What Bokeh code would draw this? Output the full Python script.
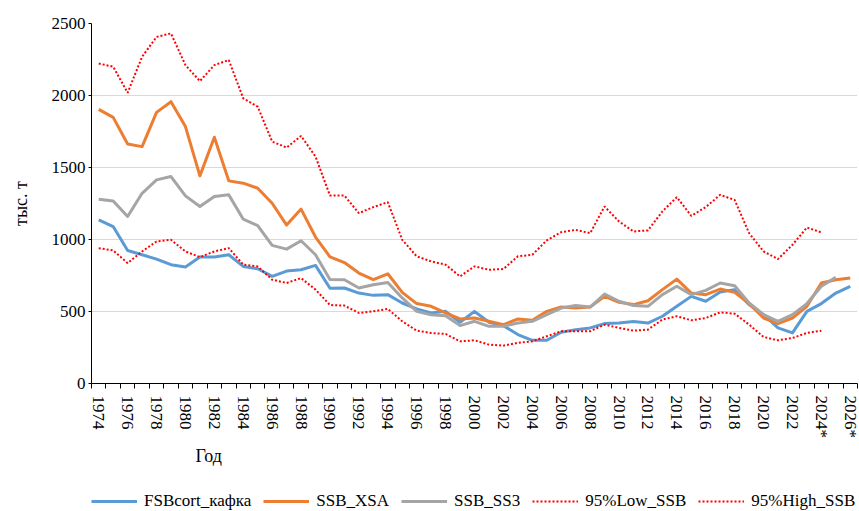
import math
from bokeh.plotting import figure
from bokeh.layouts import column
from bokeh.models import FixedTicker, Legend, LegendItem, Title, Range1d
from bokeh.embed import file_html
from bokeh.resources import INLINE

years = list(range(1974, 2027))
years_ss3 = list(range(1974, 2026))
years_ci = list(range(1974, 2025))

fsb_cort = [1137, 1090, 924, 894, 864, 825, 809, 878, 878, 894, 813, 797, 744, 781, 790, 820,
            661, 663, 628, 612, 617, 559, 518, 490, 501, 425, 501, 425, 402, 340, 300, 300,
            356, 374, 386, 416, 420, 430, 420, 467, 536, 605, 571, 635, 652, 548, 478, 386,
            351, 501, 555, 628, 675]
ssb_xsa = [1904, 1848, 1663, 1645, 1883, 1957, 1784, 1442, 1710, 1407, 1391, 1356, 1252, 1100, 1211, 1017,
           880, 840, 767, 721, 762, 633, 555, 536, 490, 448, 455, 432, 409, 448, 439, 501,
           531, 524, 531, 605, 564, 548, 575, 652, 725, 628, 617, 656, 633, 555, 455, 416,
           455, 536, 698, 721, 732]
ssb_ss3 = [1280, 1268, 1160, 1321, 1414, 1437, 1303, 1229, 1299, 1310, 1141, 1097, 959, 933, 991, 894,
           723, 721, 663, 686, 702, 594, 501, 478, 471, 402, 432, 397, 397, 420, 432, 478,
           524, 541, 531, 621, 571, 541, 536, 617, 675, 617, 647, 698, 679, 559, 478, 432,
           478, 555, 675, 737]
low_ssb = [940, 924, 836, 917, 986, 998, 917, 878, 917, 940, 825, 813, 721, 698, 732, 652,
           545, 541, 490, 501, 518, 432, 367, 351, 344, 293, 300, 270, 263, 282, 293, 328,
           363, 363, 363, 409, 386, 367, 374, 444, 467, 439, 455, 494, 485, 409, 323, 300,
           316, 351, 367]
high_ssb = [2222, 2200, 2019, 2269, 2407, 2431, 2211, 2100, 2211, 2246, 1980, 1922, 1680, 1638, 1719, 1576,
            1305, 1305, 1183, 1225, 1259, 998, 883, 848, 825, 744, 813, 790, 795, 883, 894, 994,
            1051, 1067, 1044, 1229, 1125, 1056, 1063, 1195, 1294, 1164, 1225, 1310, 1275, 1044, 917, 864,
            963, 1083, 1049]

series_names = ["FSBcort_кафка", "SSB_XSA", "SSB_SS3", "95%Low_SSB", "95%High_SSB"]
label_years = list(range(1974, 2027, 2))
label_overrides = {2024: "2024*", 2026: "2026*"}
y_ticks = [0, 500, 1000, 1500, 2000, 2500]

FONT = "Liberation Serif"
styles = [
    dict(line_color="#5B9BD5", line_width=3, line_join="round"),
    dict(line_color="#ED7D31", line_width=3, line_join="round"),
    dict(line_color="#A5A5A5", line_width=3, line_join="round"),
    dict(line_color="#FF0000", line_width=2, line_dash="2 2"),
    dict(line_color="#FF0000", line_width=2, line_dash="2 2"),
]

p = figure(width=859, height=480, output_backend="svg", toolbar_location=None,
           x_range=Range1d(1973.5, 2026.5), y_range=Range1d(0, 2500),
           min_border_left=91, min_border_right=2, min_border_top=23, min_border_bottom=97)
p.outline_line_color = None
p.background_fill_color = "white"
p.border_fill_color = "white"

p.xgrid.grid_line_color = None
p.ygrid.grid_line_color = "#D9D9D9"
p.ygrid.grid_line_width = 1

# x axis
p.xaxis.ticker = FixedTicker(ticks=label_years, minor_ticks=[y - 0.5 for y in range(1974, 2028)])
p.xaxis.major_label_overrides = {y: label_overrides.get(y, str(y)) for y in label_years}
p.xaxis.major_label_orientation = -math.pi / 2
p.xaxis.major_tick_line_color = None
p.xaxis.minor_tick_line_color = "black"
p.xaxis.minor_tick_in = 0
p.xaxis.minor_tick_out = 5
p.xaxis.major_label_standoff = 6
p.xaxis.axis_line_color = "black"
p.xaxis.major_label_text_font = FONT
p.xaxis.major_label_text_font_size = "17px"
p.xaxis.major_label_text_color = "black"

# y axis
p.yaxis.ticker = FixedTicker(ticks=y_ticks)
p.yaxis.minor_tick_line_color = None
p.yaxis.major_tick_in = 0
p.yaxis.major_tick_out = 3
p.yaxis.major_tick_line_color = "black"
p.yaxis.axis_line_color = "black"
p.yaxis.major_label_text_font = FONT
p.yaxis.major_label_text_font_size = "17px"
p.yaxis.major_label_text_color = "black"
p.yaxis.major_label_standoff = 3
p.yaxis.axis_label = "тыс. т"
p.yaxis.axis_label_text_font = FONT
p.yaxis.axis_label_text_font_size = "18px"
p.yaxis.axis_label_text_font_style = "normal"
p.yaxis.axis_label_text_color = "black"
p.yaxis.axis_label_standoff = 18

p.line(years, fsb_cort, **styles[0])
p.line(years, ssb_xsa, **styles[1])
p.line(years_ss3, ssb_ss3, **styles[2])
p.line(years_ci, low_ssb, **styles[3])
p.line(years_ci, high_ssb, **styles[4])

xt = Title(text="Год", align="left", offset=104, text_font=FONT, text_font_size="18px",
           text_font_style="normal", text_color="black", standoff=4)
p.add_layout(xt, "below")

# legend strip (its glyph lines lie outside its visible range)
lg = figure(width=859, height=31, output_backend="svg", toolbar_location=None,
            x_axis_type=None, y_axis_type=None, x_range=Range1d(0, 1), y_range=Range1d(0, 1),
            min_border_left=0, min_border_right=0, min_border_top=0, min_border_bottom=0)
lg.outline_line_color = None
lg.xgrid.grid_line_color = None
lg.ygrid.grid_line_color = None
lg.background_fill_color = "white"
lg.border_fill_color = "white"
dummies = [lg.line([5, 6], [5, 6], **st) for st in styles]

legend = Legend(items=[LegendItem(label=n, renderers=[r]) for n, r in zip(series_names, dummies)],
                orientation="horizontal", location=(0, 0))
legend.border_line_color = None
legend.background_fill_alpha = 0
legend.label_text_font = FONT
legend.label_text_font_size = "17px"
legend.label_text_color = "black"
legend.glyph_width = 46
legend.glyph_height = 18
legend.spacing = 12
legend.label_standoff = 7
legend.padding = 0
legend.margin = 0
lg.add_layout(legend)

layout = column(p, lg, spacing=0)
open("out.html", "w").write(file_html(layout, INLINE))
